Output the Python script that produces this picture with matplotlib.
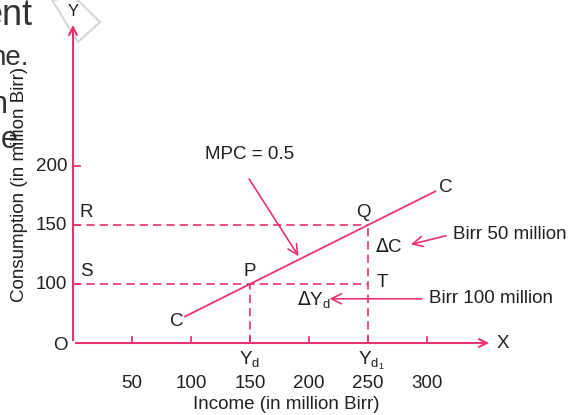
import matplotlib.pyplot as plt
from matplotlib.patches import Polygon

plt.rcParams['font.family'] = ['Liberation Sans', 'DejaVu Sans']

# data
x_ticks = [50, 100, 150, 200, 250, 300]
y_ticks = [100, 150, 200]
income_p, cons_p = 150, 100     # point P
income_q, cons_q = 250, 150     # point Q
mpc = 0.5
autonomous = cons_p - mpc * income_p
line_start, line_end = 95, 307

pink = '#E8336D'
ink = '#231F20'
fs = 13.5

fig = plt.figure(figsize=(5.72, 4.15), dpi=100)
ax = fig.add_axes([0, 0, 1, 1])
ax.set_xlim(-61.9, 422.9)
ax.set_ylim(-11.0, 340.7)
ax.axis('off')

y0 = 50  # y value at the origin (axis is broken)

# background scraps of the scanned page
for txt, xx, yy, s in [('ent', -33.9, 319.5, 26), ('ne.', -38.1, 285.6, 20),
                       ('n', -55, 245, 22), ('e', -46.6, 215, 22)]:
    ax.text(xx, yy, txt, fontsize=s, color='#333333', ha='right', va='baseline')
ax.add_patch(Polygon([[-17.8, 340.7], [4.2, 305], [22.9, 322], [1.7, 343]],
                     closed=True, fill=False, ec='#d6d6d6', lw=1.5, clip_on=False))

# axes with arrows
ax.annotate('', xy=(0, 322), xytext=(0, y0),
            arrowprops=dict(arrowstyle='->', color=pink, lw=1.5, mutation_scale=14))
ax.annotate('', xy=(355, y0), xytext=(0, y0),
            arrowprops=dict(arrowstyle='->', color=pink, lw=1.5, mutation_scale=14))
ax.text(0, 331, 'Y', fontsize=12, color=ink, ha='center', va='center')
ax.text(364, y0, 'X', fontsize=fs, color=ink, ha='center', va='center')
ax.text(-11, y0 - 2, 'O', fontsize=fs, color=ink, ha='center', va='center')

# ticks
for t in x_ticks:
    ax.plot([t, t], [y0, y0 + 5], color=pink, lw=1.3)
    ax.text(t, y0 - 34, str(t), fontsize=fs, color=ink, ha='center', va='center')
for t in y_ticks:
    ax.plot([0, 6], [t, t], color=pink, lw=1.3)
    ax.text(-5, t, str(t), fontsize=fs, color=ink, ha='right', va='center')

# dashed guide lines
dash = dict(color=pink, lw=1.2, ls=(0, (5, 3)))
ax.plot([0, income_q], [cons_q, cons_q], **dash)
ax.plot([0, income_q], [cons_p, cons_p], **dash)
ax.plot([income_p, income_p], [y0, cons_p], **dash)
ax.plot([income_q, income_q], [y0, cons_q], **dash)

# consumption function
ax.plot([line_start, line_end],
        [autonomous + mpc * line_start, autonomous + mpc * line_end],
        color=pink, lw=1.3)

lab = dict(fontsize=fs, color=ink, ha='center', va='center')
ax.text(88, 68, 'C', **lab)
ax.text(316, 182, 'C', **lab)
ax.text(11, 161, 'R', **lab)
ax.text(11, 111, 'S', **lab)
ax.text(income_p, 111, 'P', **lab)
ax.text(246, 161, 'Q', **lab)
ax.text(262, 101, 'T', **lab)
ax.text(268, 131, r'$\Delta$C', **lab)
ax.text(204, 86, r'$\Delta$Y$_\mathregular{d}$', **lab)
ax.text(income_p, 36, r'Y$_\mathregular{d}$', **lab)
ax.text(income_q + 3, 35, r'Y$_{\mathregular{d}_\mathregular{1}}$', **lab)

# MPC arrow
ax.text(150, 210, 'MPC = 0.5', fontsize=fs, color=ink, ha='center', va='center')
ax.annotate('', xy=(192.5, 121.5), xytext=(148, 191),
            arrowprops=dict(arrowstyle='->', color=pink, lw=1.2, mutation_scale=18))

# side notes
ax.text(322, 142, 'Birr 50 million', fontsize=fs, color=ink, ha='left', va='center')
ax.annotate('', xy=(284, 133), xytext=(318.5, 141.5),
            arrowprops=dict(arrowstyle='->', color=pink, lw=1.2, mutation_scale=18))
ax.text(302, 87.5, 'Birr 100 million', fontsize=fs, color=ink, ha='left', va='center')
ax.annotate('', xy=(215, 87.5), xytext=(298, 87.5),
            arrowprops=dict(arrowstyle='->', color=pink, lw=1.2, mutation_scale=18))

# axis titles
ax.text(180.5, y0 - 52, 'Income (in million Birr)', fontsize=fs, color=ink,
        ha='center', va='center')
ax.text(-45, 184, 'Consumption (in million Birr)', fontsize=fs, color=ink,
        ha='center', va='center', rotation=90)

fig.savefig('out.png', dpi=100)
